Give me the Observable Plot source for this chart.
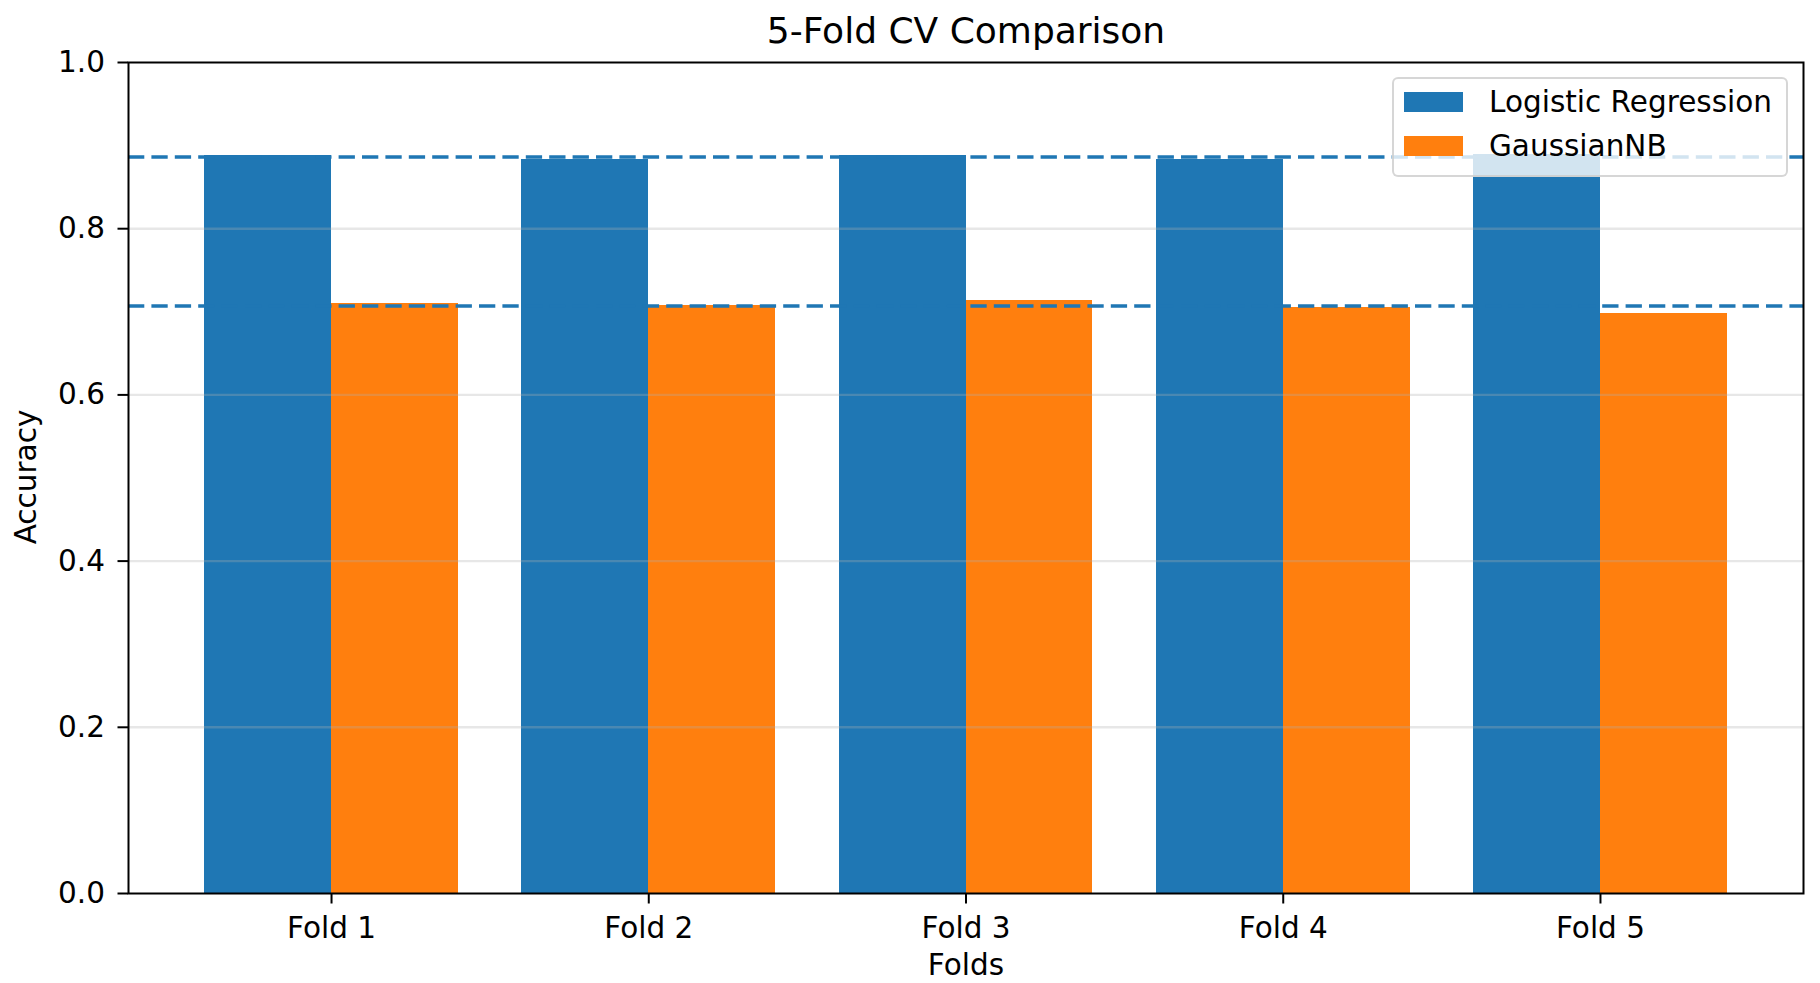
<!DOCTYPE html>
<html>
<head>
<meta charset="utf-8">
<script src="https://cdn.jsdelivr.net/npm/d3@7"></script>
<script src="https://cdn.jsdelivr.net/npm/@observablehq/plot@0.6"></script>
<style>
  html, body { margin: 0; padding: 0; background: #fff; }
  #wrap { position: relative; width: 1820px; height: 983px; font-family: "DejaVu Sans", sans-serif; color: #000; }
  #chart { position: absolute; left: 0; top: 0; }
  .title { position: absolute; left: 466px; width: 1000px; top: 12.5px; text-align: center; font-size: 36px; line-height: 1; white-space: nowrap; }
  .xlabel { position: absolute; left: 466px; width: 1000px; top: 951px; text-align: center; font-size: 29.5px; line-height: 1; white-space: nowrap; }
  .ylabel { position: absolute; left: 27px; top: 477px; font-size: 29.5px; line-height: 1; white-space: nowrap; transform: translate(-50%, -50%) rotate(-90deg); }
  .legend { position: absolute; left: 1392px; top: 77px; width: 396px; height: 100px; box-sizing: border-box; border: 2px solid rgba(204,204,204,0.8); border-radius: 6px; background: rgba(255,255,255,0.8); }
  .legend .sw { position: absolute; left: 10px; width: 59px; height: 20px; }
  .legend .lt { position: absolute; left: 95px; font-size: 29.5px; line-height: 20px; white-space: nowrap; }
</style>
</head>
<body>
<div id="wrap">
  <div id="chart"></div>
  <div class="title" id="title"></div>
  <div class="xlabel" id="xlabel"></div>
  <div class="ylabel" id="ylabel"></div>
  <div class="legend" id="legend"></div>
</div>
<script>
// ---- data ----
const chartTitle = "5-Fold CV Comparison";
const xLabel = "Folds";
const yLabel = "Accuracy";
const folds = ["Fold 1", "Fold 2", "Fold 3", "Fold 4", "Fold 5"];
const foldIndex = [0, 1, 2, 3, 4];
const seriesNames = ["Logistic Regression", "GaussianNB"];
const seriesColors = ["#1f77b4", "#ff7f0e"];
const logisticRegression = [0.888, 0.8835, 0.888, 0.8835, 0.889];
const gaussianNB = [0.7105, 0.7075, 0.7135, 0.7055, 0.6975];
const yTicks = [0.0, 0.2, 0.4, 0.6, 0.8, 1.0];
const barWidth = 0.4;

// ---- table for the library ----
const rows = [];
foldIndex.forEach(i => {
  rows.push({series: seriesNames[0], x1: i - barWidth, x2: i, y1: 0, value: logisticRegression[i]});
  rows.push({series: seriesNames[1], x1: i, x2: i + barWidth, y1: 0, value: gaussianNB[i]});
});
const means = [d3.mean(logisticRegression), d3.mean(gaussianNB)];

const chart = Plot.plot({
  width: 1820,
  height: 983,
  marginLeft: 128,
  marginRight: 17,
  marginTop: 62,
  marginBottom: 90,
  style: {fontFamily: '"DejaVu Sans", sans-serif', fontSize: "29.5px", color: "#000", background: "transparent", overflow: "visible"},
  x: {type: "linear", domain: [-0.64, 4.64]},
  y: {domain: [0, 1]},
  color: {domain: seriesNames, range: seriesColors},
  marks: [
    Plot.rect(rows, {x1: "x1", x2: "x2", y1: "y1", y2: "value", fill: "series", shapeRendering: "crispEdges"}),
    Plot.ruleY(yTicks.slice(1, -1), {stroke: "#b0b0b0", strokeOpacity: 0.3, strokeWidth: 2.4}),
    Plot.ruleY(means, {stroke: "#1f77b4", strokeWidth: 3.5, strokeDasharray: "16.3,7.1"}),
    Plot.axisY(yTicks, {tickFormat: d3.format(".1f"), tickSize: 10.5, tickPadding: 13, strokeWidth: 2, label: null}),
    Plot.axisX(foldIndex, {tickFormat: i => folds[i], tickSize: 10.5, tickPadding: 13, strokeWidth: 2, label: null}),
    Plot.frame({stroke: "#000", strokeWidth: 2})
  ]
});
document.getElementById("chart").appendChild(chart);

document.getElementById("title").textContent = chartTitle;
document.getElementById("xlabel").textContent = xLabel;
document.getElementById("ylabel").textContent = yLabel;

const legend = document.getElementById("legend");
const legendTops = [13, 57];
seriesNames.forEach((name, k) => {
  const sw = document.createElement("div");
  sw.className = "sw";
  sw.style.top = legendTops[k] + "px";
  sw.style.background = seriesColors[k];
  legend.appendChild(sw);
  const lt = document.createElement("div");
  lt.className = "lt";
  lt.style.top = legendTops[k] + "px";
  lt.textContent = name;
  legend.appendChild(lt);
});
</script>
</body>
</html>
